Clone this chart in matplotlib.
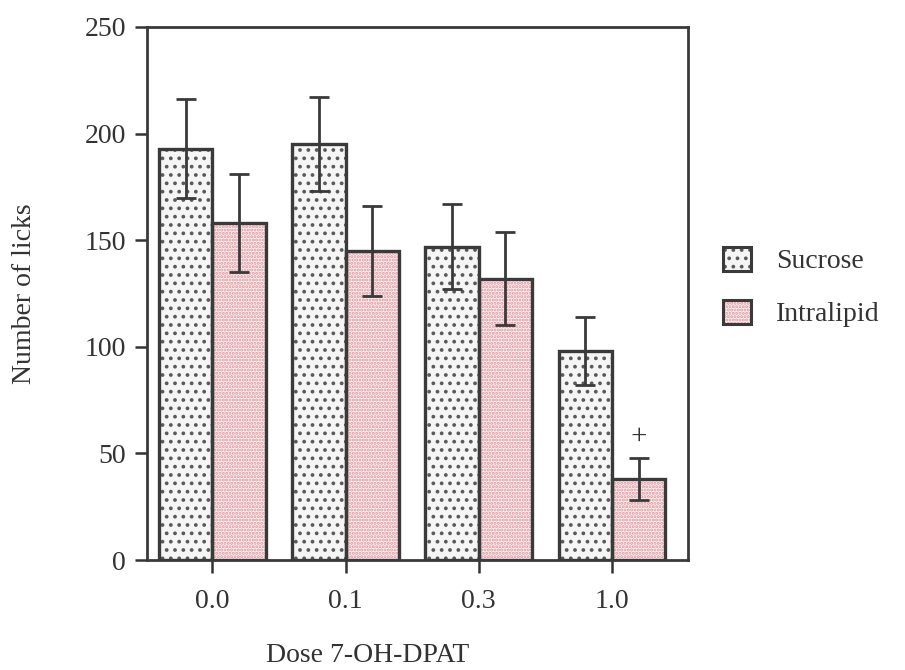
import numpy as np
import matplotlib.pyplot as plt
import matplotlib as mpl
from matplotlib.patches import Patch
from matplotlib.legend_handler import HandlerTuple

doses = ["0.0", "0.1", "0.3", "1.0"]
sucrose = [193, 195, 147, 98]
sucrose_err = [23, 22, 20, 16]
intralipid = [158, 145, 132, 38]
intralipid_err = [23, 21, 22, 10]

mpl.rcParams["font.family"] = ["Liberation Serif", "DejaVu Serif"]
mpl.rcParams["hatch.linewidth"] = 1.5

FS = 20
TXT = "#333333"
EDGE = "#3a3a3a"
SUC_FACE, SUC_DOT, SUC_HATCH = "#f6f5f5", "#5a5a5a", ".."
INT_FACE, INT_DOT, INT_HATCH = "#fcf4f4", "#e2939a", "....."

fig = plt.figure(figsize=(9.05, 6.7), dpi=100)
ax = fig.add_axes([147 / 905, 1 - 560 / 670, (688 - 147) / 905, (560 - 27) / 670])

x = np.arange(len(doses))
w = 0.4


def draw(xpos, vals, errs, face, hatch, hcolor):
    ax.bar(xpos, vals, w, color=face, edgecolor=hcolor, hatch=hatch,
           linewidth=0, zorder=2)
    ax.bar(xpos, vals, w, fill=False, edgecolor=EDGE, linewidth=2.4, zorder=3)
    ax.errorbar(xpos, vals, yerr=errs, fmt="none", ecolor=EDGE,
                elinewidth=2, capsize=7, capthick=2, zorder=4)


draw(x - w / 2, sucrose, sucrose_err, SUC_FACE, SUC_HATCH, SUC_DOT)
draw(x + w / 2, intralipid, intralipid_err, INT_FACE, INT_HATCH, INT_DOT)

ax.text(x[3] + w / 2, intralipid[3] + intralipid_err[3] + 10, "+",
        ha="center", va="center", fontsize=21, color=TXT)

ax.set_xlim(-0.49, 3.57)
ax.set_ylim(0, 250)
ax.set_yticks([0, 50, 100, 150, 200, 250])
ax.set_xticks(x)
ax.set_xticklabels(doses)
ax.tick_params(axis="both", direction="out", length=9, width=1.8,
               labelsize=FS, colors=TXT, pad=6)
ax.tick_params(axis="x", pad=12)
for s in ax.spines.values():
    s.set_linewidth(2)
    s.set_color(EDGE)

ax.set_ylabel("Number of licks", fontsize=FS, color=TXT, labelpad=34)
fig.text(368 / 905, 1 - 655 / 670, "Dose 7-OH-DPAT", fontsize=FS, color=TXT,
         ha="center", va="center")

# legend: hatched fill with a dark outline on top
handles = [
    (Patch(facecolor=SUC_FACE, edgecolor=SUC_DOT, hatch=SUC_HATCH, linewidth=0),
     Patch(fill=False, edgecolor=EDGE, linewidth=2.2)),
    (Patch(facecolor=INT_FACE, edgecolor=INT_DOT, hatch=INT_HATCH, linewidth=0),
     Patch(fill=False, edgecolor=EDGE, linewidth=2.2)),
]
fig.legend(handles, ["Sucrose", "Intralipid"], loc="center left",
           bbox_to_anchor=(698 / 905, 1 - 287 / 670), frameon=False,
           fontsize=FS, handlelength=1.0, handleheight=1.0,
           labelspacing=0.9, handletextpad=0.9, labelcolor=TXT,
           handler_map={tuple: HandlerTuple(ndivide=1, pad=0)})

fig.savefig("out.png", dpi=100)
